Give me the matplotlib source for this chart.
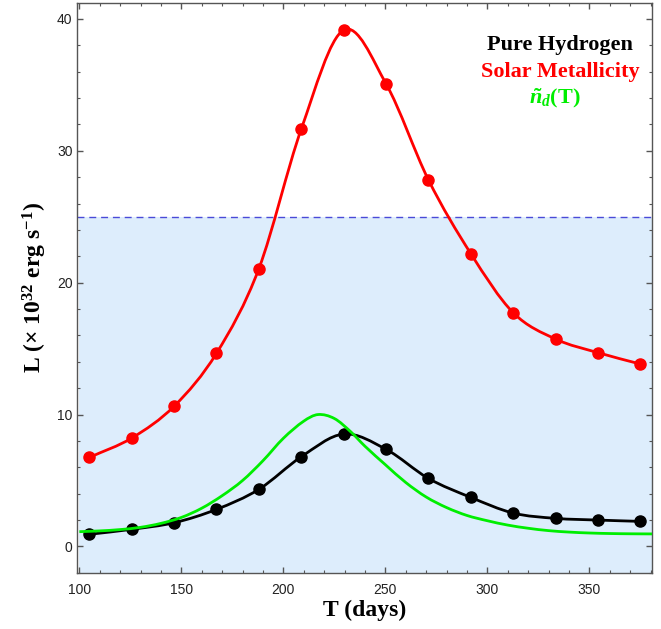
# Luminosity curves: pure hydrogen vs solar metallicity
import numpy as np
import matplotlib
import matplotlib.pyplot as plt
import matplotlib.ticker as ticker
from matplotlib.path import Path
from matplotlib.patches import PathPatch

plt.rcParams['mathtext.fontset'] = 'custom'
plt.rcParams['mathtext.rm'] = 'Liberation Serif:bold'
plt.rcParams['mathtext.it'] = 'Liberation Serif:italic:bold'
plt.rcParams['mathtext.bf'] = 'Liberation Serif:bold'

# sample times (days)
t_pts = [104.9, 125.7, 146.5, 167.2, 188.0, 208.8, 229.6,
         250.4, 271.1, 291.9, 312.7, 333.5, 354.3, 375.0]
# luminosity, units of 1e32 erg/s
L_hydrogen = [0.92, 1.30, 1.80, 2.81, 4.33, 6.80, 8.52,
              7.36, 5.16, 3.72, 2.53, 2.13, 2.00, 1.90]
L_solar = [6.75, 8.22, 10.64, 14.64, 21.06, 31.65, 39.15,
           35.06, 27.80, 22.20, 17.72, 15.72, 14.69, 13.83]

# dust density curve n_d(T)
t_dust = [100, 110, 120, 130, 140, 150, 160, 170, 180, 190, 200, 210,
          217, 225, 233, 240, 250, 260, 270, 280, 290, 300, 310, 320,
          330, 340, 350, 360, 370, 381]
n_dust = [1.12, 1.18, 1.28, 1.45, 1.75, 2.20, 2.90, 3.85, 5.00, 6.50,
          8.20, 9.50, 10.00, 9.70, 8.70, 7.60, 6.20, 4.85, 3.75, 2.95,
          2.35, 1.95, 1.62, 1.38, 1.20, 1.09, 1.02, 0.98, 0.96, 0.95]

L_limit = 25.0


def smooth_path(x, y):
    # cubic Hermite segments written as Bezier curves
    x = np.asarray(x, float)
    y = np.asarray(y, float)
    n = len(x)
    m = np.empty(n)
    m[1:-1] = (y[2:] - y[:-2]) / (x[2:] - x[:-2])
    m[0] = (y[1] - y[0]) / (x[1] - x[0])
    m[-1] = (y[-1] - y[-2]) / (x[-1] - x[-2])
    verts = [(x[0], y[0])]
    codes = [Path.MOVETO]
    for i in range(n - 1):
        h = x[i + 1] - x[i]
        verts += [(x[i] + h / 3, y[i] + m[i] * h / 3),
                  (x[i + 1] - h / 3, y[i + 1] - m[i + 1] * h / 3),
                  (x[i + 1], y[i + 1])]
        codes += [Path.CURVE4] * 3
    return Path(verts, codes)


fig = plt.figure(figsize=(6.61, 6.29), dpi=100)
ax = fig.add_axes([0.117, 0.0893, 0.8693, 0.9059])

ax.fill_between([100, 400], -5, L_limit, color='#ddedfc', lw=0, zorder=0)
ax.axhline(L_limit, color='#4a4ad8', lw=1, ls=(0, (5, 3.5)), zorder=1)

ax.add_patch(PathPatch(smooth_path(t_pts, L_hydrogen), fc='none', ec='black', lw=2, zorder=3))
ax.plot(t_pts, L_hydrogen, 'o', color='black', ms=8, zorder=3)
ax.add_patch(PathPatch(smooth_path(t_dust, n_dust), fc='none', ec='#00ee00', lw=2, zorder=4))
ax.add_patch(PathPatch(smooth_path(t_pts, L_solar), fc='none', ec='red', lw=2, zorder=5))
ax.plot(t_pts, L_solar, 'o', color='red', ms=8, zorder=5)

ax.set_xlim(99.0, 380.7)
ax.set_ylim(-2.0, 41.2)
ax.xaxis.set_major_locator(ticker.MultipleLocator(50))
ax.xaxis.set_minor_locator(ticker.MultipleLocator(10))
ax.yaxis.set_major_locator(ticker.MultipleLocator(10))
ax.yaxis.set_minor_locator(ticker.MultipleLocator(2))
ax.tick_params(which='both', direction='in', top=True, right=True, color='#555555')
ax.tick_params(which='major', length=4, width=1, labelsize=10, labelcolor='#222222')
ax.tick_params(which='minor', length=2.2, width=0.8)
ax.tick_params(axis='x', which='major', pad=7)
for lab in ax.get_xticklabels() + ax.get_yticklabels():
    lab.set_family('Liberation Sans')
for s in ax.spines.values():
    s.set_color('#555555')
    s.set_linewidth(1)

ax.set_xlabel('T (days)', family='Liberation Serif', weight='bold', fontsize=17, labelpad=2)
ax.set_ylabel(r'L (× 10$^{32}$ erg s$^{-1}$)', family='Liberation Serif', weight='bold',
              fontsize=17, labelpad=6)

fig.text(0.847, 0.928, 'Pure Hydrogen', color='black', family='Liberation Serif',
         weight='bold', fontsize=16, ha='center', va='center')
fig.text(0.847, 0.886, 'Solar Metallicity', color='red', family='Liberation Serif',
         weight='bold', fontsize=16, ha='center', va='center')
fig.text(0.84, 0.844, r'$\tilde{n}_d$(T)', color='#00ee00', family='Liberation Serif',
         weight='bold', fontsize=16, ha='center', va='center')

plt.savefig('out.png', dpi=100)
